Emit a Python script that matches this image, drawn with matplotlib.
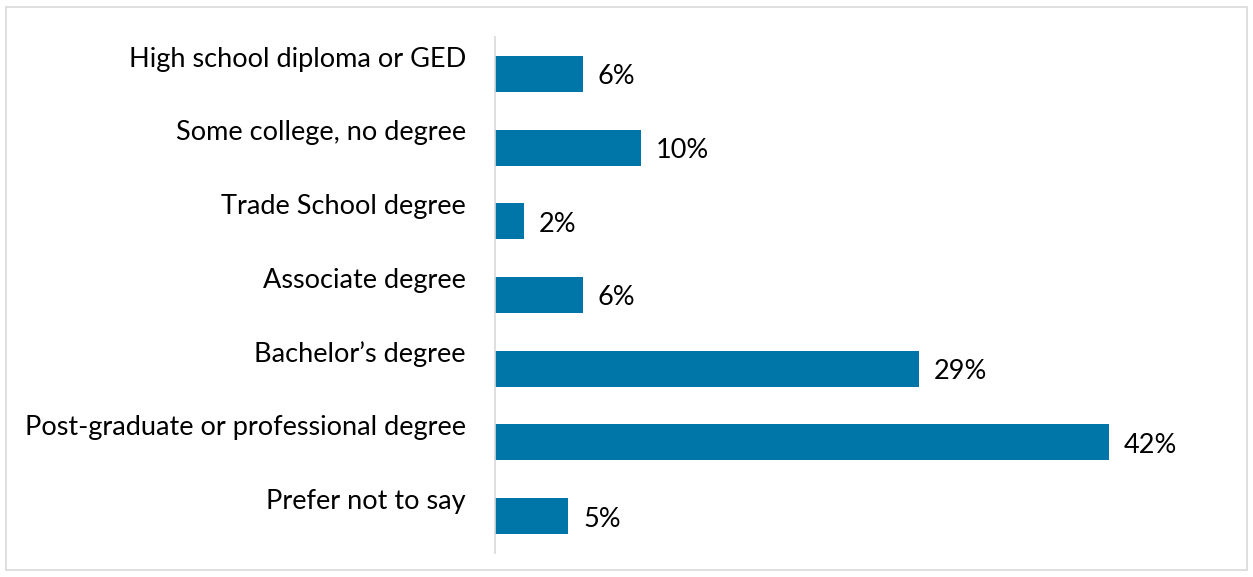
import matplotlib
matplotlib.use("Agg")
import matplotlib.pyplot as plt
import matplotlib.transforms as mtransforms
from matplotlib.patches import Rectangle

# ── Data ─────────────────────────────────────────────────────────────────────
categories = [
    "High school diploma or GED",
    "Some college, no degree",
    "Trade School degree",
    "Associate degree",
    "Bachelor\u2019s degree",
    "Post-graduate or professional degree",
    "Prefer not to say",
]
shares = [6, 10, 2, 6, 29, 42, 5]

BAR_COLOR = "#0076A8"
GRID_GRAY = "#D9D9D9"

plt.rcParams["font.family"] = ["Lato", "DejaVu Sans"]

W, H = 1253, 577
fig = plt.figure(figsize=(W / 100, H / 100), dpi=100)

# light frame around the whole chart area
fig.patches.append(Rectangle((6 / W, 1 - 570 / H), 1241 / W, 563 / H,
                             transform=fig.transFigure, fill=False,
                             edgecolor=GRID_GRAY, linewidth=1.2))

left, right = 495, 1200
top, bottom = 37, 553
ax = fig.add_axes([left / W, 1 - bottom / H, (right - left) / W, (bottom - top) / H])

y = list(range(len(categories)))
ax.barh(y, shares, height=0.49, color=BAR_COLOR)
ax.set_ylim(len(categories) - 0.5, -0.5)
ax.set_xlim(0, (right - left) / 14.62)

for spine in ["top", "right", "bottom"]:
    ax.spines[spine].set_visible(False)
ax.spines["left"].set_color(GRID_GRAY)
ax.spines["left"].set_linewidth(1.2)
ax.set_xticks([])
ax.set_yticks([])

# category labels sit right-aligned, level with the top of each bar
lab_tf = mtransforms.blended_transform_factory(ax.transAxes, ax.transData)
lab_tf = lab_tf + mtransforms.ScaledTranslation(-29 / 100, 0, fig.dpi_scale_trans)
for yi, name in zip(y, categories):
    ax.text(0, yi - 0.20, name, transform=lab_tf, ha="right", va="center",
            fontsize=19.5, color="black")

# value labels just past the bar end
val_tf = ax.transData + mtransforms.ScaledTranslation(15 / 100, 0, fig.dpi_scale_trans)
for yi, v in zip(y, shares):
    ax.text(v, yi + 0.04, f"{v}%", transform=val_tf, ha="left", va="center",
            fontsize=19.5, color="black")

fig.savefig("out.png", dpi=100)
